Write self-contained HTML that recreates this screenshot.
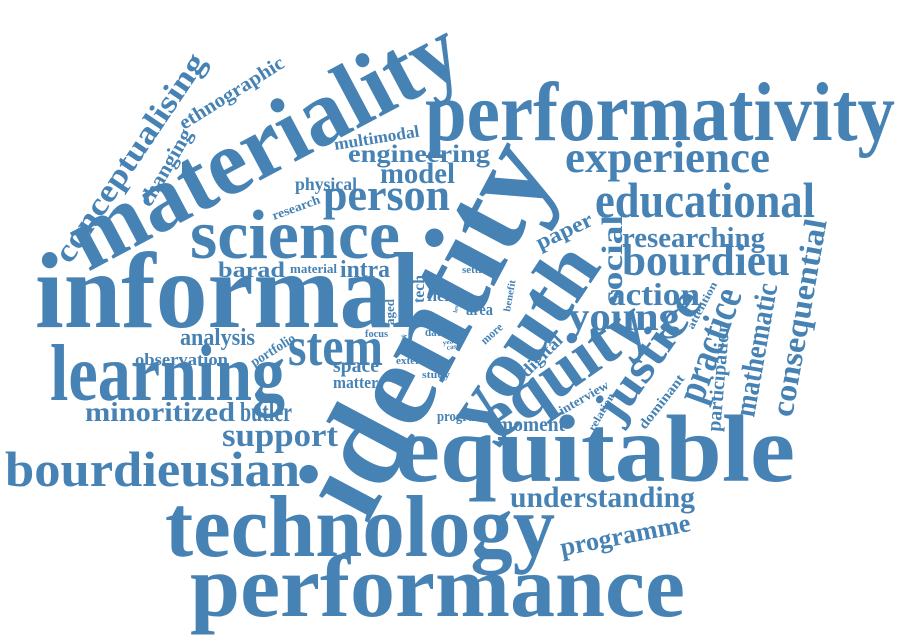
<!DOCTYPE html>
<html><head><meta charset="utf-8"><style>
html,body{margin:0;padding:0;background:#fff;width:900px;height:644px;overflow:hidden}
svg text{font-family:"Liberation Serif",serif;font-weight:bold;fill:#4682B4}
</style></head><body>
<svg width="900" height="644" viewBox="0 0 900 644">
<g>
<text x="425" y="140" font-size="84" textLength="470" lengthAdjust="spacingAndGlyphs">performativity</text>
<text x="565" y="172" font-size="44" textLength="205" lengthAdjust="spacingAndGlyphs">experience</text>
<text x="595" y="217" font-size="50" textLength="220" lengthAdjust="spacingAndGlyphs">educational</text>
<text x="622" y="247" font-size="28" textLength="143" lengthAdjust="spacingAndGlyphs">researching</text>
<text x="622" y="275" font-size="44" textLength="168" lengthAdjust="spacingAndGlyphs">bourdieu</text>
<text x="608" y="305" font-size="32" textLength="92" lengthAdjust="spacingAndGlyphs">action</text>
<text x="568" y="330" font-size="40" textLength="112" lengthAdjust="spacingAndGlyphs">young</text>
<text transform="translate(622,305) rotate(-90)" font-size="30" textLength="90" lengthAdjust="spacingAndGlyphs">social</text>
<text transform="translate(88,272) rotate(-28)" font-size="94" textLength="430" lengthAdjust="spacingAndGlyphs">materiality</text>
<text x="190" y="258" font-size="70" textLength="210" lengthAdjust="spacingAndGlyphs">science</text>
<text x="323" y="210" font-size="45" textLength="127" lengthAdjust="spacingAndGlyphs">person</text>
<text x="380" y="183" font-size="30" textLength="75" lengthAdjust="spacingAndGlyphs">model</text>
<text x="348" y="162" font-size="25" textLength="142" lengthAdjust="spacingAndGlyphs">engineering</text>
<text transform="translate(335,150) rotate(-9)" font-size="17" textLength="86" lengthAdjust="spacingAndGlyphs">multimodal</text>
<text x="295" y="190" font-size="18" textLength="62" lengthAdjust="spacingAndGlyphs">physical</text>
<text transform="translate(274,220) rotate(-20)" font-size="13" textLength="50" lengthAdjust="spacingAndGlyphs">research</text>
<text x="218" y="277" font-size="22" textLength="67" lengthAdjust="spacingAndGlyphs">barad</text>
<text x="290" y="273" font-size="13" textLength="47" lengthAdjust="spacingAndGlyphs">material</text>
<text x="340" y="277" font-size="24" textLength="50" lengthAdjust="spacingAndGlyphs">intra</text>
<text x="35" y="327" font-size="108" textLength="385" lengthAdjust="spacingAndGlyphs">informal</text>
<text x="180" y="345" font-size="24" textLength="75" lengthAdjust="spacingAndGlyphs">analysis</text>
<text x="135" y="365" font-size="17" textLength="93" lengthAdjust="spacingAndGlyphs">observation</text>
<text transform="translate(254,367) rotate(-32)" font-size="14" textLength="50" lengthAdjust="spacingAndGlyphs">portfolio</text>
<text x="288" y="365" font-size="55" textLength="95" lengthAdjust="spacingAndGlyphs">stem</text>
<text x="50" y="400" font-size="80" textLength="235" lengthAdjust="spacingAndGlyphs">learning</text>
<text x="333" y="372" font-size="20" textLength="46" lengthAdjust="spacingAndGlyphs">space</text>
<text x="333" y="388" font-size="17" textLength="45" lengthAdjust="spacingAndGlyphs">matter</text>
<text x="365" y="337" font-size="10" textLength="23" lengthAdjust="spacingAndGlyphs">focus</text>
<text x="396" y="364" font-size="11" textLength="29" lengthAdjust="spacingAndGlyphs">extent</text>
<text x="422" y="378" font-size="11" textLength="28" lengthAdjust="spacingAndGlyphs">study</text>
<text x="425" y="336" font-size="13" textLength="21" lengthAdjust="spacingAndGlyphs">data</text>
<text x="427" y="301" font-size="16" textLength="31" lengthAdjust="spacingAndGlyphs">field</text>
<text x="466" y="315" font-size="17" textLength="27" lengthAdjust="spacingAndGlyphs">area</text>
<text x="462" y="273" font-size="11" textLength="31" lengthAdjust="spacingAndGlyphs">setting</text>
<text transform="translate(424,303) rotate(-90)" font-size="16" textLength="28" lengthAdjust="spacingAndGlyphs">tech</text>
<text transform="translate(394,325) rotate(-90)" font-size="13" textLength="26" lengthAdjust="spacingAndGlyphs">aged</text>
<text transform="translate(402,348) rotate(-70)" font-size="7" textLength="14" lengthAdjust="spacingAndGlyphs">work</text>
<text transform="translate(457,313) rotate(-80)" font-size="6" textLength="10" lengthAdjust="spacingAndGlyphs">less</text>
<text transform="translate(443,345) rotate(-10)" font-size="7" textLength="14" lengthAdjust="spacingAndGlyphs">year</text>
<text transform="translate(447,350) rotate(-10)" font-size="7" textLength="13" lengthAdjust="spacingAndGlyphs">case</text>
<text transform="translate(510,312) rotate(-80)" font-size="10" textLength="32" lengthAdjust="spacingAndGlyphs">benefit</text>
<text transform="translate(485,345) rotate(-42)" font-size="12" textLength="25" lengthAdjust="spacingAndGlyphs">more</text>
<text x="85" y="421" font-size="27" textLength="150" lengthAdjust="spacingAndGlyphs">minoritized</text>
<text x="240" y="421" font-size="27" textLength="52" lengthAdjust="spacingAndGlyphs">butler</text>
<text x="222" y="446" font-size="33" textLength="116" lengthAdjust="spacingAndGlyphs">support</text>
<text x="5" y="486" font-size="50" textLength="295" lengthAdjust="spacingAndGlyphs">bourdieusian</text>
<text x="437" y="421" font-size="15" textLength="48" lengthAdjust="spacingAndGlyphs">program</text>
<text x="497" y="431" font-size="20" textLength="68" lengthAdjust="spacingAndGlyphs">moment</text>
<text x="395" y="481" font-size="95" textLength="400" lengthAdjust="spacingAndGlyphs">equitable</text>
<text x="510" y="507" font-size="30" textLength="185" lengthAdjust="spacingAndGlyphs">understanding</text>
<text x="165" y="556" font-size="88" textLength="390" lengthAdjust="spacingAndGlyphs">technology</text>
<text transform="translate(562,556) rotate(-11)" font-size="26" textLength="132" lengthAdjust="spacingAndGlyphs">programme</text>
<text x="190" y="616" font-size="88" textLength="495" lengthAdjust="spacingAndGlyphs">performance</text>
<text transform="translate(367,525) rotate(-62)" font-size="122" textLength="405" lengthAdjust="spacingAndGlyphs">identity</text>
<text transform="translate(485,440) rotate(-56)" font-size="80" textLength="210" lengthAdjust="spacingAndGlyphs">youth</text>
<text transform="translate(497,442) rotate(-35)" font-size="68" textLength="190" lengthAdjust="spacingAndGlyphs">equity</text>
<text transform="translate(527,378) rotate(-45)" font-size="17" textLength="52" lengthAdjust="spacingAndGlyphs">digital</text>
<text transform="translate(540,250) rotate(-25)" font-size="22" textLength="60" lengthAdjust="spacingAndGlyphs">paper</text>
<text transform="translate(562,415) rotate(-30)" font-size="13" textLength="55" lengthAdjust="spacingAndGlyphs">interview</text>
<text transform="translate(594,432) rotate(-60)" font-size="11" textLength="42" lengthAdjust="spacingAndGlyphs">relation</text>
<text transform="translate(618,425) rotate(-55)" font-size="48" textLength="150" lengthAdjust="spacingAndGlyphs">justice</text>
<text transform="translate(645,430) rotate(-52)" font-size="14" textLength="65" lengthAdjust="spacingAndGlyphs">dominant</text>
<text transform="translate(702,405) rotate(-70)" font-size="42" textLength="118" lengthAdjust="spacingAndGlyphs">practice</text>
<text transform="translate(693,330) rotate(-62)" font-size="11" textLength="52" lengthAdjust="spacingAndGlyphs">attention</text>
<text transform="translate(720,432) rotate(-85)" font-size="20" textLength="110" lengthAdjust="spacingAndGlyphs">participation</text>
<text transform="translate(754,418) rotate(-80)" font-size="30" textLength="135" lengthAdjust="spacingAndGlyphs">mathematic</text>
<text transform="translate(792,418) rotate(-80)" font-size="32" textLength="200" lengthAdjust="spacingAndGlyphs">consequential</text>
<text transform="translate(70,265) rotate(-56)" font-size="32" textLength="245" lengthAdjust="spacingAndGlyphs">conceptualising</text>
<text transform="translate(150,208) rotate(-60)" font-size="21" textLength="86" lengthAdjust="spacingAndGlyphs">changing</text>
<text transform="translate(184,130) rotate(-32)" font-size="20" textLength="120" lengthAdjust="spacingAndGlyphs">ethnographic</text>
</g>
</svg>
</body></html>
